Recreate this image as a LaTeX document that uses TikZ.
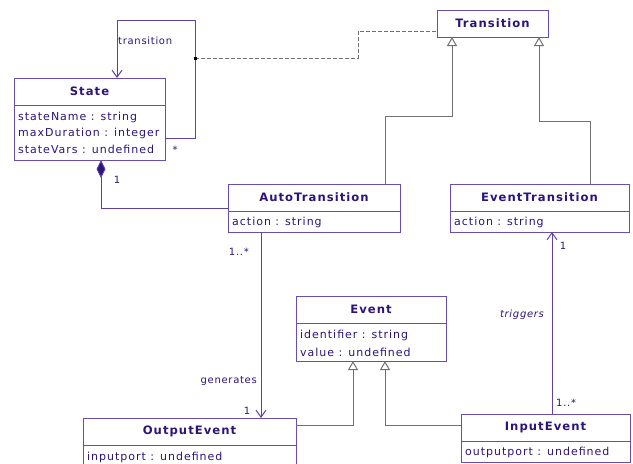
\documentclass[tikz,border=0pt]{standalone}
\usepackage{fontspec}
\setmainfont{DejaVu Sans}
\newfontfamily\umlfont[LetterSpace=9]{DejaVu Sans}
\newfontfamily\umllabelfont[LetterSpace=7]{DejaVu Sans}
\usetikzlibrary{arrows.meta,fit}

\definecolor{umltext}{HTML}{2E1478}
\definecolor{umlborder}{HTML}{6A4DB3}
\definecolor{umlline}{HTML}{5E42A8}
\definecolor{genline}{HTML}{707070}

\tikzset{
  classbox/.style={draw=umlborder, line width=1pt, fill=white, inner sep=0pt, outer sep=0pt},
  classtitle/.style={font={\umlfont\fontsize{11.6}{13}\selectfont\bfseries}, text=umltext, inner sep=0pt},
  attr/.style={font={\umlfont\fontsize{11}{13}\selectfont}, text=umltext, inner sep=0pt, anchor=west},
  rolelabel/.style={font={\umllabelfont\fontsize{10}{12}\selectfont}, text=umltext, inner sep=0pt},
  assoc/.style={draw=umlline, line width=1pt},
  navarrow/.style={-{Straight Barb[length=7pt,width=10pt,line width=1pt]}},
  gen/.style={draw=genline, line width=1pt, -{Triangle[open,length=9pt,width=10pt,line width=1pt,fill=white]}},
  dep/.style={draw=genline, line width=1pt, dash pattern=on 4pt off 2pt},
}

% class box: name, x1, y1, x2, y2, y of the header rule, title
\newcommand\umlclass[7]{%
  \node[classbox, fit={(#2,#3)(#4,#5)}] (#1) {};
  \draw[umlborder, line width=1pt] (#2,#6) -- (#4,#6);
  \node[classtitle] (#1-title) at ({(#2+#4)/2},{(#3+#6)/2}) {#7};
}

\begin{document}
\begin{tikzpicture}[x=1pt,y=-1pt]
\useasboundingbox (0,0) rectangle (633,464);
\clip (0,0) rectangle (633,464);

% Transition (title only)
\node[classbox, fit={(437,10)(548,37)}] (Transition) {};
\node[classtitle] (Transition-title) at (492.5,23.5) {Transition};

% State
\umlclass{State}{14}{78}{165}{160}{105}{State}
\node[attr] (State-a1) at (18,117) {stateName : string};
\node[attr] (State-a2) at (18,133) {maxDuration : integer};
\node[attr] (State-a3) at (18,149) {stateVars : undefined};

% AutoTransition and EventTransition
\umlclass{AutoTransition}{228}{184}{400}{232}{211}{AutoTransition}
\node[attr] (AutoTransition-a1) at (232,222) {action : string};
\umlclass{EventTransition}{450}{184}{629}{232}{211}{EventTransition}
\node[attr] (EventTransition-a1) at (454,222) {action : string};

% Event
\umlclass{Event}{296}{296}{446}{361}{323}{Event}
\node[attr] (Event-a1) at (300,335) {identifier : string};
\node[attr] (Event-a2) at (300,352) {value : undefined};

% OutputEvent and InputEvent
\umlclass{OutputEvent}{83}{418}{296}{472}{445}{OutputEvent}
\node[attr] (OutputEvent-a1) at (87,457) {inputport : undefined};
\umlclass{InputEvent}{461}{414}{630}{462}{441}{InputEvent}
\node[attr] (InputEvent-a1) at (465,452) {outputport : undefined};

% self association "transition" on State
\draw[assoc, navarrow] (State.east |- 0,138) -| (195,20) -| (State.north -| 117,0);
\node[rolelabel, anchor=west] (lbl-transition) at (118,41) {transition};
\node[rolelabel] (lbl-star) at (175,150) {*};

% association class link to Transition
\coordinate (loopdot) at (195,58);
\draw[dep] (loopdot) -- (358,58) |- (Transition.west |- 0,31);
\fill[black] (193.5,56.5) rectangle (196.5,59.5);

% generalizations to Transition
\draw[gen] (AutoTransition.north -| 385,0) |- (452,116) -- (Transition.south -| 452,0);
\draw[gen] (EventTransition.north -| 590,0) |- (539,121) -- (Transition.south -| 539,0);

% composition State <>-- AutoTransition
\draw[assoc, {Diamond[length=18pt,width=9pt,fill=umltext]}-] (State.south -| 101,0) |- (AutoTransition.west |- 0,208);
\node[rolelabel] (lbl-comp) at (117,180) {1};

% generates
\draw[assoc, navarrow] (AutoTransition.south -| 261,0) -- (OutputEvent.north -| 261,0);
\node[rolelabel, anchor=east] (lbl-gen-many) at (249,252) {1..*};
\node[rolelabel, anchor=east] (lbl-generates) at (257,381) {generates};
\node[rolelabel] (lbl-gen-one) at (247,411) {1};

% triggers
\draw[assoc, navarrow] (InputEvent.north -| 552,0) -- (EventTransition.south -| 552,0);
\node[rolelabel] (lbl-trig-one) at (563,246) {1};
\node[rolelabel, font={\umllabelfont\fontsize{10}{12}\selectfont\itshape}] (lbl-triggers) at (522,315) {triggers};
\node[rolelabel, anchor=west] (lbl-trig-many) at (556,403) {1..*};

% generalizations to Event
\draw[gen] (OutputEvent.east |- 0,425) -| (Event.south -| 353,0);
\draw[gen] (InputEvent.west |- 0,425) -| (Event.south -| 385,0);
\end{tikzpicture}
\end{document}
